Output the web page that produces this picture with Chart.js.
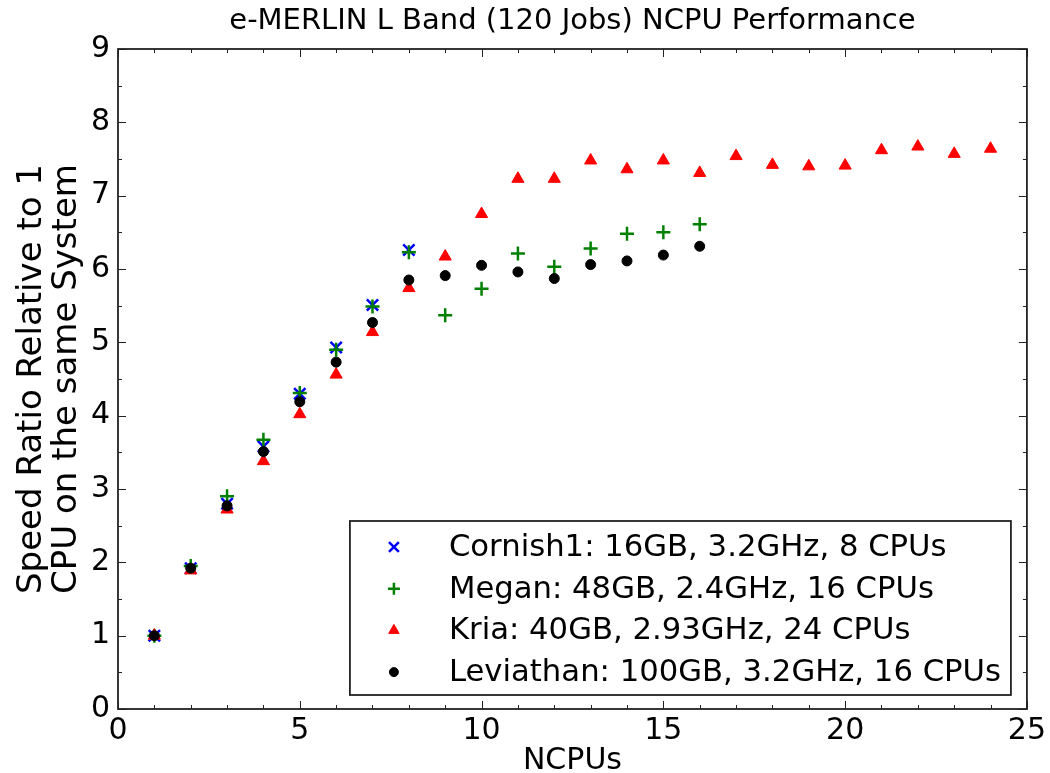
<!DOCTYPE html>
<html>
<head>
<meta charset="utf-8">
<script src="https://cdn.jsdelivr.net/npm/chart.js@4/dist/chart.umd.min.js"></script>
<style>
    html, body { margin: 0; padding: 0; background: #ffffff; }
    #wrap { width: 1050px; height: 773px; }
</style>
</head>
<body>
<div id="wrap"><canvas id="ncpu-chart" width="1050" height="773"></canvas></div>
<script>
// values
const ncpus = [1, 2, 3, 4, 5, 6, 7, 8, 9, 10, 11, 12, 13, 14, 15, 16, 17, 18, 19, 20, 21, 22, 23, 24];

const cornish1Labels = "Cornish1: 16GB, 3.2GHz, 8 CPUs";
const meganLabels = "Megan: 48GB, 2.4GHz, 16 CPUs";
const kriaLabels = "Kria: 40GB, 2.93GHz, 24 CPUs";
const leviathanLabels = "Leviathan: 100GB, 3.2GHz, 16 CPUs";

const cornish1Data = [1.00, 1.92, 2.80, 3.58, 4.30, 4.93, 5.51, 6.26];
const meganData = [1.00, 1.95, 2.90, 3.67, 4.31, 4.90, 5.49, 6.23, 5.37, 5.73, 6.21, 6.03, 6.28, 6.48, 6.50, 6.61];
const kriaData = [1.00, 1.89, 2.72, 3.38, 4.02, 4.56, 5.14, 5.74, 6.17, 6.75, 7.23, 7.23, 7.48, 7.36, 7.48, 7.31, 7.54, 7.42, 7.40, 7.41, 7.62, 7.67, 7.57, 7.64];
const leviathanData = [1.00, 1.92, 2.77, 3.51, 4.19, 4.73, 5.27, 5.85, 5.91, 6.05, 5.96, 5.87, 6.06, 6.11, 6.19, 6.31];

const xTickValues = [0, 5, 10, 15, 20, 25];
const yTickValues = [0, 1, 2, 3, 4, 5, 6, 7, 8, 9];

const FONT = "DejaVu Sans";

function toPoints(values) {
    return values.map((v, i) => ({ x: ncpus[i], y: v }));
}

// matplotlib style frame with inward ticks on all four sides
const frameTicks = {
    id: "frameTicks",
    afterDraw(chart) {
        const ctx = chart.ctx;
        const area = chart.chartArea;
        const xs = chart.scales.x;
        const ys = chart.scales.y;
        ctx.save();
        ctx.strokeStyle = "#222222";
        ctx.lineWidth = 1;
        ctx.beginPath();
        for (let v = xs.min; v <= xs.max; v += 1) {
            const px = Math.round(xs.getPixelForValue(v)) + 0.5;
            const len = v % 5 === 0 ? 8 : 4;
            ctx.moveTo(px, area.bottom);
            ctx.lineTo(px, area.bottom - len);
            ctx.moveTo(px, area.top);
            ctx.lineTo(px, area.top + len);
        }
        for (let v = ys.min; v <= ys.max; v += 0.5) {
            const py = Math.round(ys.getPixelForValue(v)) + 0.5;
            const len = v % 1 === 0 ? 8 : 4;
            ctx.moveTo(area.left, py);
            ctx.lineTo(area.left + len, py);
            ctx.moveTo(area.right, py);
            ctx.lineTo(area.right - len, py);
        }
        ctx.stroke();
        ctx.lineWidth = 1.8;
        ctx.strokeRect(area.left, area.top, area.right - area.left, area.bottom - area.top);
        ctx.restore();
    },
};

// legend box in the lower right of the axes
const innerLegend = {
    id: "innerLegend",
    afterDraw(chart) {
        const ctx = chart.ctx;
        const area = chart.chartArea;
        const boxRight = area.right - 16;
        const boxBottom = area.bottom - 14;
        const boxW = 661;
        const boxH = 174;
        const left = boxRight - boxW;
        const top = boxBottom - boxH;
        ctx.save();
        ctx.fillStyle = "#ffffff";
        ctx.fillRect(left, top, boxW, boxH);
        ctx.strokeStyle = "#222222";
        ctx.lineWidth = 1.8;
        ctx.strokeRect(left, top, boxW, boxH);
        ctx.font = "30.7px '" + FONT + "'";
        ctx.textBaseline = "middle";
        chart.data.datasets.forEach((ds, i) => {
            const cy = top + 26 + i * 41.7;
            ctx.fillStyle = ds.backgroundColor;
            ctx.strokeStyle = ds.borderColor;
            ctx.lineWidth = ds.borderWidth;
            Chart.helpers.drawPoint(ctx, {
                pointStyle: ds.pointStyle,
                radius: ds.legendRadius,
                rotation: 0,
                borderWidth: ds.borderWidth,
            }, left + 44, cy);
            ctx.fillStyle = "#000000";
            ctx.fillText(ds.label, left + 99, cy + 1);
        });
        ctx.restore();
    },
};

const chartCanvas = document.getElementById("ncpu-chart");

const ncpuChart = new Chart(chartCanvas, {
    type: "scatter",
    data: {
        datasets: [
            {
                label: cornish1Labels,
                data: toPoints(cornish1Data),
                pointStyle: "crossRot",
                pointRadius: 8,
                legendRadius: 7,
                borderWidth: 2.5,
                borderColor: "#0000ff",
                backgroundColor: "#0000ff",
                order: 3,
            },
            {
                label: meganLabels,
                data: toPoints(meganData),
                pointStyle: "cross",
                pointRadius: 7,
                legendRadius: 6,
                borderWidth: 2.5,
                borderColor: "#008000",
                backgroundColor: "#008000",
                order: 2,
            },
            {
                label: kriaLabels,
                data: toPoints(kriaData),
                pointStyle: "triangle",
                pointRadius: 7,
                legendRadius: 6,
                borderWidth: 1,
                borderColor: "#ff0000",
                backgroundColor: "#ff0000",
                order: 1,
            },
            {
                label: leviathanLabels,
                data: toPoints(leviathanData),
                pointStyle: "circle",
                pointRadius: 5,
                legendRadius: 4.5,
                borderWidth: 1,
                borderColor: "#000000",
                backgroundColor: "#000000",
                order: 0,
            },
        ],
    },
    options: {
        responsive: false,
        animation: false,
        events: [],
        layout: {
            padding: { top: 0, left: 0, right: 20, bottom: 0 },
        },
        scales: {
            x: {
                type: "linear",
                position: "bottom",
                min: 0,
                max: 25,
                afterFit: (scale) => { scale.height = 64; },
                afterBuildTicks: (scale) => { scale.ticks = xTickValues.map((v) => ({ value: v })); },
                grid: { display: false, drawTicks: false },
                border: { display: false },
                ticks: {
                    padding: 4,
                    color: "#000000",
                    font: { family: FONT, size: 30 },
                },
                title: {
                    display: true,
                    text: "NCPUs",
                    color: "#000000",
                    font: { family: FONT, size: 30, lineHeight: 0.8 },
                    padding: 0,
                },
            },
            xTop: {
                type: "linear",
                position: "top",
                min: 0,
                max: 25,
                afterFit: (scale) => { scale.height = 49; },
                grid: { display: false, drawTicks: false },
                border: { display: false },
                ticks: { display: false },
                title: {
                    display: true,
                    text: "e-MERLIN L Band (120 Jobs) NCPU Performance",
                    color: "#000000",
                    font: { family: FONT, size: 29, lineHeight: 1.2 },
                    padding: { top: 4, bottom: 0 },
                },
            },
            y: {
                type: "linear",
                min: 0,
                max: 9,
                afterFit: (scale) => { scale.width = 118; },
                afterBuildTicks: (scale) => { scale.ticks = yTickValues.map((v) => ({ value: v })); },
                grid: { display: false, drawTicks: false },
                border: { display: false },
                ticks: {
                    padding: 8,
                    color: "#000000",
                    font: { family: FONT, size: 30 },
                },
                title: {
                    display: true,
                    text: ["Speed Ratio Relative to 1", "CPU on the same System"],
                    color: "#000000",
                    font: { family: FONT, size: 34, lineHeight: 1.03 },
                    padding: { top: 15, bottom: 0 },
                },
            },
        },
        plugins: {
            legend: { display: false },
            tooltip: { enabled: false },
        },
    },
    plugins: [frameTicks, innerLegend],
});
</script>
</body>
</html>
